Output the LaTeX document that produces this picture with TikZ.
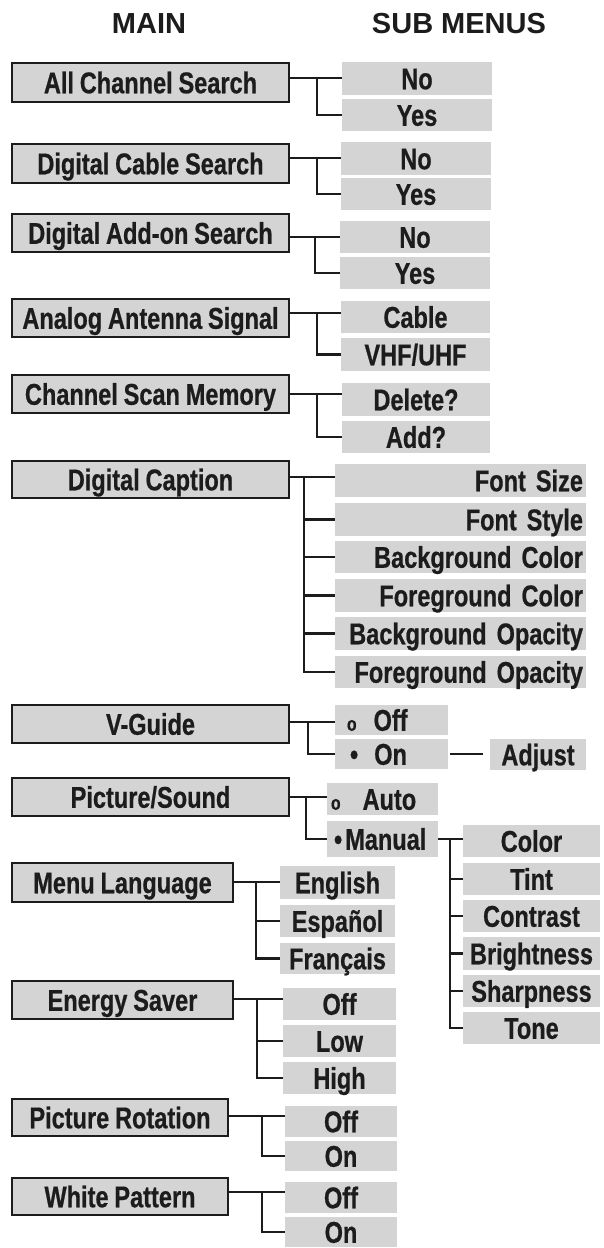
\documentclass[tikz,border=0pt]{standalone}
\usepackage{fontspec}
\newfontfamily\cond[FakeStretch=0.785, FakeBold=0.6]{Liberation Sans}
\newfontfamily\hdrfont{Liberation Sans}
\definecolor{boxgray}{RGB}{212,212,212}
\definecolor{ink}{RGB}{28,28,28}
\tikzset{
  base/.style={rectangle, inner sep=0pt, outer sep=0pt, fill=boxgray, text=ink,
    font={\cond\bfseries\fontsize{30}{30}\selectfont\spaceskip=5.8pt\relax}, text height=21.5pt, text depth=0pt},
  mainbox/.style={base, draw=ink, line width=1.3pt},
  subbox/.style={base},
  rightsub/.style={text width=245pt, align=right},
  conn/.style={draw=ink, line width=2.6pt},
  hdr/.style={font=\hdrfont\bfseries\fontsize{29}{29}\selectfont, text=ink, inner sep=0pt}
}
\newcommand\MBox[6]{\node[mainbox, anchor=north west, minimum width={#4-#2}, minimum height={#5-#3}] (#1) at (#2,#3) {#6};}
\newcommand\SBox[7][]{\node[subbox, anchor=north west, minimum width={#5-#3}, minimum height={#6-#4}, #1] (#2) at (#3,#4) {#7};}
\newcommand\smallo{{\fontsize{20}{20}\selectfont o}}
\begin{document}
\begin{tikzpicture}[x=1pt, y=-1pt]
\fill[white] (0,0) rectangle (604,1248);
\useasboundingbox (0,0) rectangle (604,1248);

\node[hdr] (hmain) at (149,24) {MAIN};
\node[hdr] (hsub) at (459,24) {SUB MENUS};

% 1 All Channel Search
\MBox{m1}{12}{63}{289}{102}{All Channel Search}
\SBox{s1a}{342}{62}{492}{95}{No}
\SBox{s1b}{342}{99}{492}{131}{Yes}
\coordinate (j1) at (317,78);
\draw[conn] (m1.east |- j1) -- (s1a.west |- j1);
\draw[conn] (j1) |- (s1b.west);

% 2 Digital Cable Search
\MBox{m2}{12}{144}{289}{183}{Digital Cable Search}
\SBox{s2a}{341}{142}{491}{175}{No}
\SBox{s2b}{341}{178}{491}{210}{Yes}
\coordinate (j2) at (317,158);
\draw[conn] (m2.east |- j2) -- (s2a.west |- j2);
\draw[conn] (j2) |- (s2b.west);

% 3 Digital Add-on Search
\MBox{m3}{12}{214}{289}{252}{Digital Add-on Search}
\SBox{s3a}{340}{221}{490}{253}{No}
\SBox{s3b}{340}{257}{490}{289}{Yes}
\coordinate (j3) at (315,237);
\draw[conn] (m3.east |- j3) -- (s3a.west |- j3);
\draw[conn] (j3) |- (s3b.west);

% 4 Analog Antenna Signal
\MBox{m4}{12}{299}{289}{337}{Analog Antenna Signal}
\SBox{s4a}{341}{301}{490}{333}{Cable}
\SBox{s4b}{341}{338}{490}{371}{VHF/UHF}
\coordinate (j4) at (317,313);
\draw[conn] (m4.east |- j4) -- (s4a.west |- j4);
\draw[conn] (j4) |- (s4b.west);

% 5 Channel Scan Memory
\MBox{m5}{12}{375}{289}{413}{Channel Scan Memory}
\SBox{s5a}{342}{383}{490}{416}{Delete?}
\SBox{s5b}{342}{421}{490}{453}{Add?}
\coordinate (j5) at (317,394);
\draw[conn] (m5.east |- j5) -- (s5a.west |- j5);
\draw[conn] (j5) |- (s5b.west);

% 6 Digital Caption
\MBox{m6}{12}{461}{289}{498}{Digital Caption}
\SBox[rightsub]{s6a}{335}{464}{586}{497}{Font Size}
\SBox[rightsub]{s6b}{335}{503}{586}{536}{Font Style}
\SBox[rightsub]{s6c}{335}{541}{586}{573}{Background Color}
\SBox[rightsub]{s6d}{335}{579}{586}{612}{Foreground Color}
\SBox[rightsub]{s6e}{335}{617}{586}{650}{Background Opacity}
\SBox[rightsub]{s6f}{335}{656}{586}{688}{Foreground Opacity}
\coordinate (j6) at (304,477);
\draw[conn] (m6.east |- j6) -- (s6a.west |- j6);
\foreach \s in {s6b,s6c,s6d,s6e,s6f} \draw[conn] (j6) |- (\s.west);

% 7 V-Guide
\MBox{m7}{12}{705}{289}{743}{V-Guide}
\SBox[text width=89pt, align=left]{s7a}{335}{705}{448}{735}{\smallo\hspace{17pt}Off}
\SBox[text width=89pt, align=left]{s7b}{335}{739}{448}{769}{\hspace{3pt}•\hspace{16pt}On}
\SBox{s7c}{490}{739}{586}{770}{Adjust}
\coordinate (j7) at (308,722);
\draw[conn] (m7.east |- j7) -- (s7a.west |- j7);
\draw[conn] (j7) |- (s7b.west);
\draw[conn, shorten <=2pt, shorten >=7pt] (s7b.east) -- (s7c.west |- s7b.east);

% 8 Picture/Sound
\MBox{m8}{12}{778}{289}{816}{Picture/Sound}
\SBox[text width=103pt, align=left]{s8a}{327}{783}{438}{815}{\smallo\hspace{22pt}Auto}
\SBox[text width=103pt, align=left]{s8b}{327}{821}{438}{857}{\hspace{3pt}•\hspace{3pt}Manual}
\coordinate (j8) at (306,797);
\draw[conn] (m8.east |- j8) -- (s8a.west |- j8);
\draw[conn] (j8) |- (s8b.west);

\SBox{t1}{463}{825}{600}{857}{Color}
\SBox{t2}{463}{863}{600}{895}{Tint}
\SBox{t3}{463}{900}{600}{932}{Contrast}
\SBox{t4}{463}{937}{600}{970}{Brightness}
\SBox{t5}{463}{975}{600}{1007}{Sharpness}
\SBox{t6}{463}{1012}{600}{1044}{Tone}
\coordinate (jM) at (450,839);
\draw[conn] (s8b.east |- jM) -- (t1.west |- jM);
\foreach \s in {t2,t3,t4,t5,t6} \draw[conn] (jM) |- (\s.west);

% 9 Menu Language
\MBox{m9}{12}{863}{233}{902}{Menu Language}
\SBox{s9a}{280}{866}{395}{899}{English}
\SBox{s9b}{280}{905}{395}{937}{Español}
\SBox{s9c}{280}{943}{395}{974}{Français}
\coordinate (j9) at (256,882);
\draw[conn] (m9.east |- j9) -- (s9a.west |- j9);
\foreach \s in {s9b,s9c} \draw[conn] (j9) |- (\s.west);

% 10 Energy Saver
\MBox{m10}{12}{981}{233}{1019}{Energy Saver}
\SBox{s10a}{283}{988}{396}{1020}{Off}
\SBox{s10b}{283}{1025}{396}{1057}{Low}
\SBox{s10c}{283}{1062}{396}{1094}{High}
\coordinate (j10) at (257,999);
\draw[conn] (m10.east |- j10) -- (s10a.west |- j10);
\foreach \s in {s10b,s10c} \draw[conn] (j10) |- (\s.west);

% 11 Picture Rotation
\MBox{m11}{12}{1099}{228}{1136}{Picture Rotation}
\SBox{s11a}{285}{1106}{397}{1137}{Off}
\SBox{s11b}{285}{1141}{397}{1171}{On}
\coordinate (j11) at (262,1116);
\draw[conn] (m11.east |- j11) -- (s11a.west |- j11);
\draw[conn] (j11) |- (s11b.west);

% 12 White Pattern
\MBox{m12}{12}{1178}{228}{1215}{White Pattern}
\SBox{s12a}{285}{1182}{397}{1213}{Off}
\SBox{s12b}{285}{1217}{397}{1247}{On}
\coordinate (j12) at (262,1192);
\draw[conn] (m12.east |- j12) -- (s12a.west |- j12);
\draw[conn] (j12) |- (s12b.west);
\end{tikzpicture}
\end{document}
